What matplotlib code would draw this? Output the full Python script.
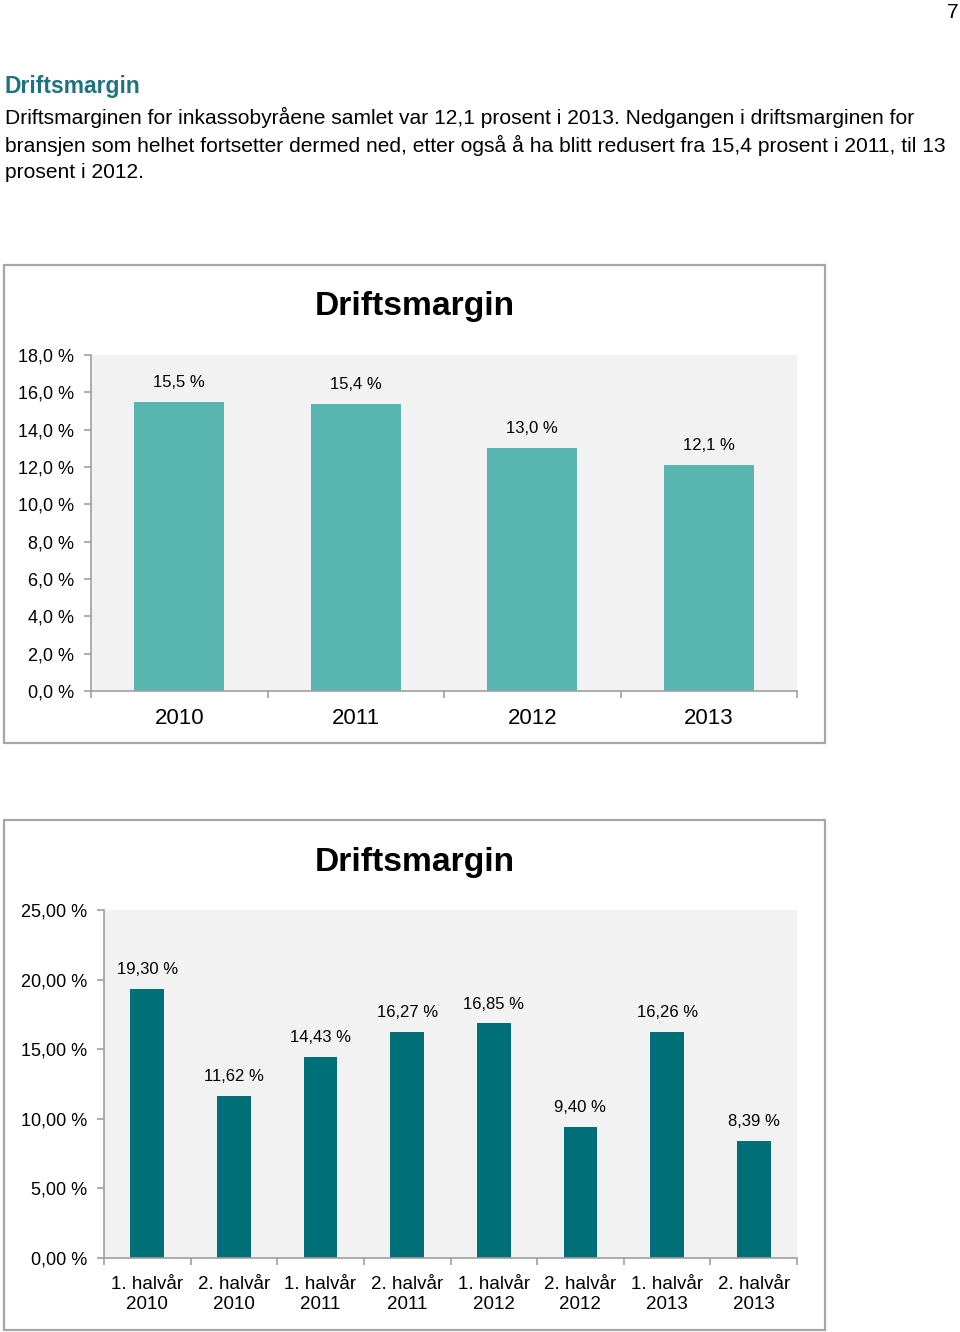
import matplotlib.pyplot as plt
from matplotlib.patches import Rectangle
from matplotlib.ticker import FixedLocator

plt.rcParams['font.family'] = ['Liberation Sans', 'DejaVu Sans']

# data
years = ['2010', '2011', '2012', '2013']
margin_year = [15.5, 15.4, 13.0, 12.1]

halves = ['1. halvår\n2010', '2. halvår\n2010', '1. halvår\n2011', '2. halvår\n2011',
          '1. halvår\n2012', '2. halvår\n2012', '1. halvår\n2013', '2. halvår\n2013']
margin_half = [19.30, 11.62, 14.43, 16.27, 16.85, 9.40, 16.26, 8.39]

W, H = 960, 1332
fig = plt.figure(figsize=(W / 100, H / 100), dpi=100)


def px_axes(x0, y0, x1, y1):
    # pixel box (top-left origin) -> figure axes
    return fig.add_axes([x0 / W, 1 - y1 / H, (x1 - x0) / W, (y1 - y0) / H])


def frame(x0, y0, x1, y1):
    fig.patches.append(Rectangle((x0 / W, 1 - y1 / H), (x1 - x0) / W, (y1 - y0) / H,
                                 transform=fig.transFigure, fill=False,
                                 edgecolor='#A6A6A6', lw=1.6))


def style(ax, n):
    ax.set_facecolor('#F2F2F2')
    for s in ['top', 'right']:
        ax.spines[s].set_visible(False)
    for s in ['left', 'bottom']:
        ax.spines[s].set_color('#A0A0A0')
        ax.spines[s].set_linewidth(1.2)
    ax.set_xlim(-0.5, n - 0.5)
    ax.xaxis.set_minor_locator(FixedLocator([i - 0.5 for i in range(n + 1)]))
    ax.tick_params(axis='x', which='major', length=0, pad=12)
    ax.tick_params(axis='x', which='minor', length=5, color='#A0A0A0', width=1.2)
    ax.tick_params(axis='y', length=5, color='#A0A0A0', width=1.2, pad=7, labelsize=13)


# page text
fig.text(953 / W, 1 - 12 / H, '7', fontsize=15, ha='center', va='center')
fig.text(5 / W, 1 - 87 / H, 'Driftsmargin', fontsize=16.5, fontweight='bold',
         color='#1D7480', va='center')
body = ['Driftsmarginen for inkassobyråene samlet var 12,1 prosent i 2013. Nedgangen i driftsmarginen for',
        'bransjen som helhet fortsetter dermed ned, etter også å ha blitt redusert fra 15,4 prosent i 2011, til 13',
        'prosent i 2012.']
for i, line in enumerate(body):
    fig.text(5 / W, 1 - (117 + 28 * i) / H, line, fontsize=15.1, va='center')

# chart 1
frame(4, 265, 825, 743)
fig.text(415 / W, 1 - 307 / H, 'Driftsmargin', fontsize=24.2, fontweight='bold',
         ha='center', va='center')
ax1 = px_axes(91, 355, 797, 691)
style(ax1, len(years))
ax1.bar(range(len(years)), margin_year, width=0.51, color='#58B5B0')
ax1.set_ylim(0, 18)
ax1.set_yticks(range(0, 19, 2))
ax1.set_yticklabels([f'{v:.1f} %'.replace('.', ',') for v in range(0, 19, 2)])
ax1.set_xticks(range(len(years)))
ax1.set_xticklabels(years, fontsize=16)
for i, v in enumerate(margin_year):
    ax1.annotate(f'{v:.1f} %'.replace('.', ','), (i, v), xytext=(0, 14),
                 textcoords='offset points', ha='center', va='center', fontsize=12)

# chart 2
frame(4, 820, 825, 1330)
fig.text(415 / W, 1 - 862 / H, 'Driftsmargin', fontsize=24.2, fontweight='bold',
         ha='center', va='center')
ax2 = px_axes(104, 910, 797, 1258)
style(ax2, len(halves))
ax2.bar(range(len(halves)), margin_half, width=0.39, color='#006F78')
ax2.set_ylim(0, 25)
ax2.set_yticks(range(0, 26, 5))
ax2.set_yticklabels([f'{v:.2f} %'.replace('.', ',') for v in range(0, 26, 5)])
ax2.set_xticks(range(len(halves)))
ax2.set_xticklabels(halves, fontsize=13.5, linespacing=1.2)
ax2.tick_params(axis='x', which='major', pad=13)
for i, v in enumerate(margin_half):
    ax2.annotate(f'{v:.2f} %'.replace('.', ','), (i, v), xytext=(0, 14),
                 textcoords='offset points', ha='center', va='center', fontsize=12)

fig.savefig('out.png', dpi=100)
